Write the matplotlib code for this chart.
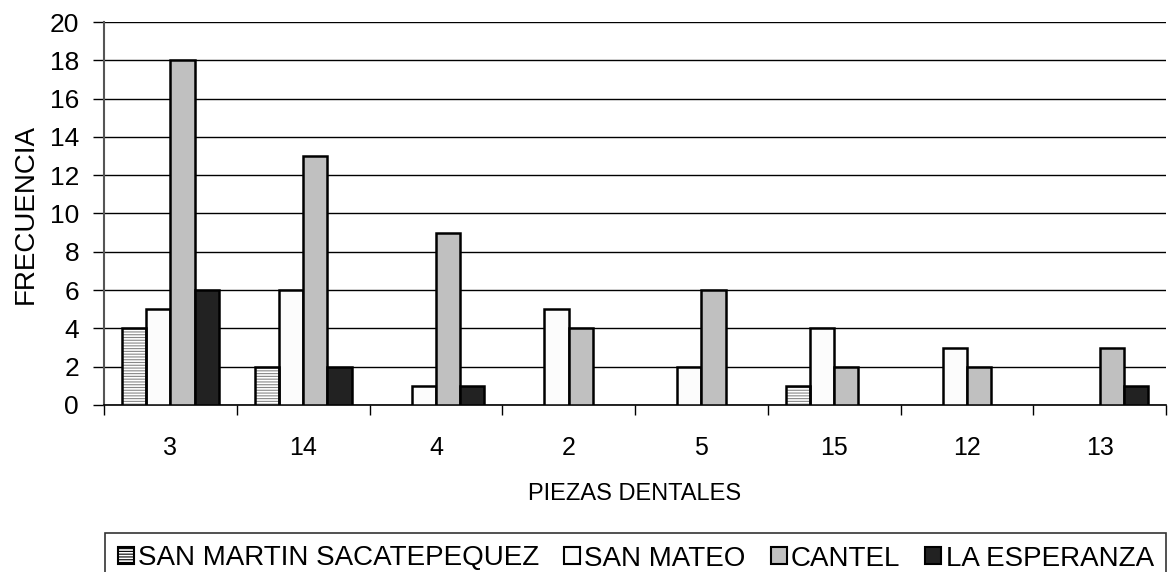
import matplotlib
matplotlib.use("Agg")
import matplotlib.pyplot as plt
import numpy as np
from matplotlib.patches import Patch

plt.rcParams['font.family'] = ['Liberation Sans', 'DejaVu Sans']
plt.rcParams['hatch.color'] = '#888888'
plt.rcParams['hatch.linewidth'] = 0.8

categories = ['3', '14', '4', '2', '5', '15', '12', '13']
series_names = ['SAN MARTIN SACATEPEQUEZ', 'SAN MATEO', 'CANTEL', 'LA ESPERANZA']
san_martin = [4, 2, 0, 0, 0, 1, 0, 0]
san_mateo = [5, 6, 1, 5, 2, 4, 3, 0]
cantel = [18, 13, 9, 4, 6, 2, 2, 3]
la_esperanza = [6, 2, 1, 0, 0, 0, 0, 1]

series = [san_martin, san_mateo, cantel, la_esperanza]
colors = ['white', '#fcfcfc', '#c0c0c0', '#222222']
hatches = ['------', None, None, None]

fig = plt.figure(figsize=(11.7, 5.72), dpi=100)
ax = fig.add_axes([104/1170, 1-405/572, (1166-104)/1170, (405-22)/572])

x = np.arange(len(categories))
w = 0.183
for i, (vals, c, h) in enumerate(zip(series, colors, hatches)):
    vals = np.array(vals, dtype=float)
    pos = x + (i - 1.5) * w
    mask = vals > 0
    ax.bar(pos[mask], vals[mask], width=w, color=c, hatch=h, edgecolor='#888888' if h else 'black',
           linewidth=0 if h else 1.8, zorder=3)
    if h:
        ax.bar(pos[mask], vals[mask], width=w, fill=False, edgecolor='black', linewidth=1.8, zorder=4)

ax.set_xlim(-0.5, len(categories) - 0.5)
ax.set_ylim(0, 20)
ax.set_yticks(np.arange(0, 21, 2))
ax.yaxis.grid(True, color='black', linewidth=1)
ax.set_axisbelow(True)
ax.set_xticks(x)
ax.set_xticklabels(categories)
ax.set_xticks(np.arange(-0.5, len(categories)), minor=True)
ax.tick_params(axis='x', which='major', length=0, labelsize=18, pad=22)
ax.tick_params(axis='x', which='minor', length=7, width=1, color='black')
ax.tick_params(axis='y', length=8, width=1, labelsize=19, direction='out', pad=10)
for s in ['top', 'right']:
    ax.spines[s].set_visible(False)
ax.spines['left'].set_linewidth(1.5)
ax.spines['left'].set_color('#555555')
ax.spines['bottom'].set_linewidth(1.2)

ax.set_ylabel('FRECUENCIA', fontsize=20, labelpad=8)
ax.set_xlabel('PIEZAS DENTALES', fontsize=17, labelpad=17)

handles = []
for n, c, h in zip(series_names, colors, hatches):
    handles.append(Patch(facecolor=c, edgecolor='black', hatch=h, linewidth=1.5, label=n))
leg = fig.legend(handles=handles, loc='upper left', bbox_to_anchor=(105/1170, 1 - 533/572),
                 ncol=4, fontsize=20, frameon=True, fancybox=False, edgecolor='black',
                 handlelength=0.58, handleheight=0.58, handletextpad=0.15, columnspacing=0.9,
                 borderpad=0.45, borderaxespad=0)
leg.get_frame().set_linewidth(1.2)

fig.savefig('out.png', dpi=100)
